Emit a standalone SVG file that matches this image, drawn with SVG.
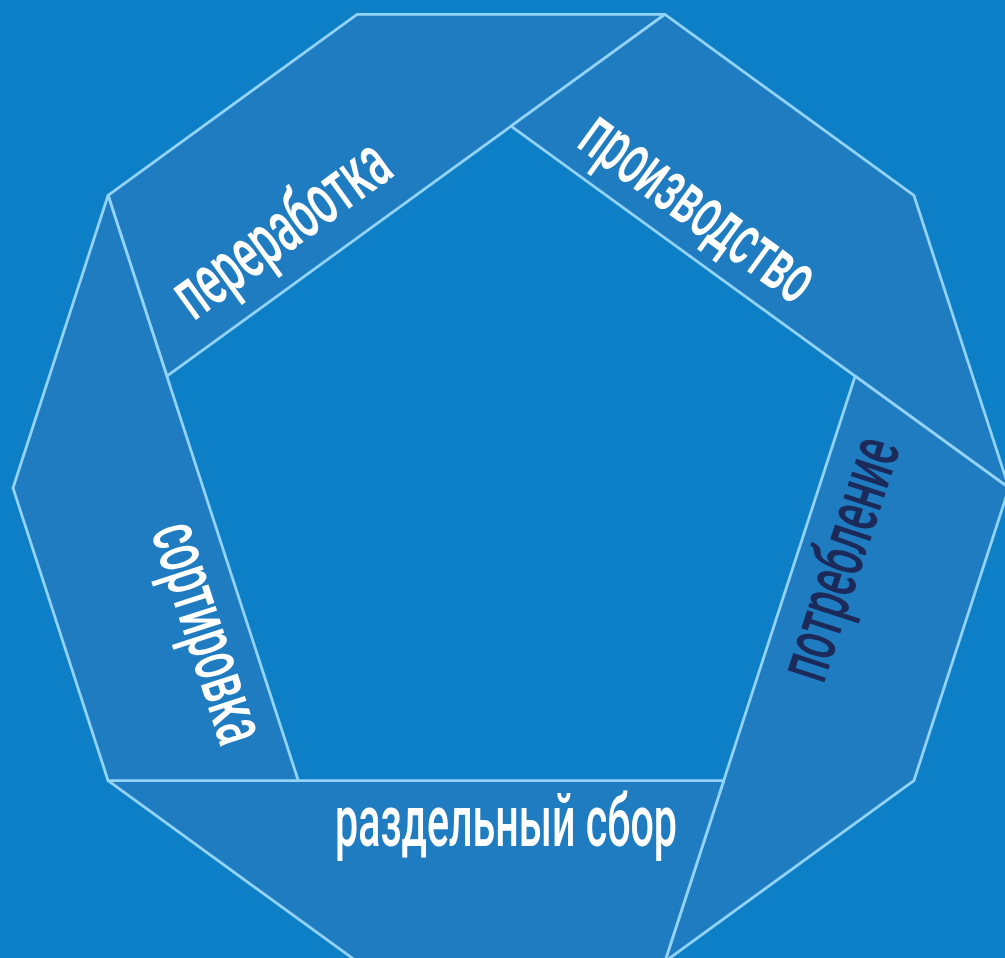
<svg xmlns="http://www.w3.org/2000/svg" width="1005" height="958" viewBox="0 0 1005 958">
  <style>
    .band { fill: #1f7cc1; stroke: #92d3f7; stroke-width: 2.8; stroke-linejoin: round; }
    .lbl { font-family: Roboto, "Liberation Sans", sans-serif; font-size: 73px; font-weight: 500; fill: #ffffff; text-anchor: middle; }
    .dark { fill: #1c2a5a; }
  </style>
  <rect x="0" y="0" width="1005" height="958" fill="#0d7fc7"/>
  <g id="band-pererabotka">
    <polygon class="band" points="166.9,376.2 108.1,195.3 357.1,14.4 664.9,14.4"/>
    <text class="lbl" transform="translate(295,248) rotate(-36)" textLength="250" lengthAdjust="spacingAndGlyphs">переработка</text>
  </g>
  <g id="band-proizvodstvo">
    <polygon class="band" points="511,126.2 664.9,14.4 913.9,195.3 1009,488"/>
    <text class="lbl" transform="translate(685,226) rotate(36)" textLength="272" lengthAdjust="spacingAndGlyphs">производство</text>
  </g>
  <g id="band-potreblenie">
    <polygon class="band" points="855.1,376.2 1009,488 913.9,780.7 664.9,961.6"/>
    <text class="lbl dark" transform="translate(862,566) rotate(-72)" textLength="250" lengthAdjust="spacingAndGlyphs">потребление</text>
  </g>
  <g id="band-razdelny-sbor">
    <polygon class="band" points="723.7,780.7 664.9,961.6 357.1,961.6 108.1,780.7"/>
    <text class="lbl" transform="translate(506,846)" textLength="342" lengthAdjust="spacingAndGlyphs">раздельный сбор</text>
  </g>
  <g id="band-sortirovka">
    <polygon class="band" points="298.3,780.7 108.1,780.7 13,488 108.1,195.3"/>
    <text class="lbl" transform="translate(186,640) rotate(72)" textLength="228" lengthAdjust="spacingAndGlyphs">сортировка</text>
  </g>
  <g id="connectors"/>
</svg>
